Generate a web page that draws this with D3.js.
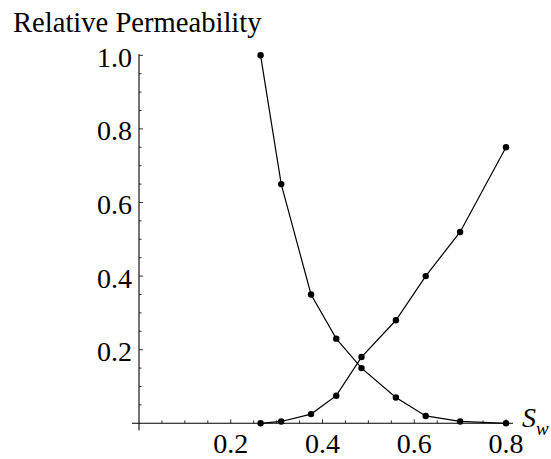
<!DOCTYPE html>
<html>
<head>
<meta charset="utf-8">
<script src="https://cdn.jsdelivr.net/npm/d3@7"></script>
<style>
  body { margin: 0; background: #fff; }
</style>
</head>
<body>
<svg id="chart"></svg>
<script>
// Data
const sw = [0.265, 0.31, 0.375, 0.43, 0.485, 0.56, 0.625, 0.7, 0.8];
const krw = [0, 0.005, 0.025, 0.075, 0.18, 0.28, 0.4, 0.52, 0.75];
const kro = [1.0, 0.65, 0.35, 0.23, 0.15, 0.07, 0.02, 0.005, 0];
const xTicks = [0.2, 0.4, 0.6, 0.8];
const yTicks = [0.2, 0.4, 0.6, 0.8, 1.0];

// Chart dimensions
const width = 551;
const height = 459;
const serif = "'Liberation Serif', 'Times New Roman', Times, 'DejaVu Serif', serif";

const svg = d3.select("#chart")
  .attr("width", width)
  .attr("height", height)
  .attr("font-family", serif)
  .style("font-family", serif);

// Scales
const xScale = d3.scaleLinear().domain([0, 0.8]).range([139, 506]);
const yScale = d3.scaleLinear().domain([0, 1]).range([423.3, 55.3]);

// Minor ticks every 0.05
const xMinor = d3.range(0.05, 0.801, 0.05).filter((v) => !xTicks.some((t) => Math.abs(t - v) < 1e-6));
const yMinor = d3.range(0.05, 1.001, 0.05).filter((v) => !yTicks.some((t) => Math.abs(t - v) < 1e-6));

// Axis lines
svg.append("line")
  .attr("x1", xScale(0) - 7).attr("x2", xScale(0.8) + 7)
  .attr("y1", yScale(0)).attr("y2", yScale(0))
  .attr("stroke", "#000").attr("stroke-width", 1.1);
svg.append("line")
  .attr("x1", xScale(0)).attr("x2", xScale(0))
  .attr("y1", yScale(0) + 7).attr("y2", yScale(1) - 1)
  .attr("stroke", "#000").attr("stroke-width", 1.1);

// X ticks (drawn upward)
svg.append("g").selectAll("line")
  .data(xTicks.concat(xMinor))
  .enter().append("line")
  .attr("x1", (d) => xScale(d)).attr("x2", (d) => xScale(d))
  .attr("y1", yScale(0))
  .attr("y2", (d) => yScale(0) - (xTicks.includes(d) ? 4 : 3))
  .attr("stroke", "#000").attr("stroke-width", 0.8);

svg.append("g").selectAll("text")
  .data(xTicks)
  .enter().append("text")
  .attr("x", (d) => xScale(d))
  .attr("y", yScale(0) + 30)
  .attr("text-anchor", "middle")
  .attr("font-size", 28)
  .text((d) => d3.format(".1f")(d));

// Y ticks (drawn to the right)
svg.append("g").selectAll("line")
  .data(yTicks.concat(yMinor))
  .enter().append("line")
  .attr("x1", xScale(0))
  .attr("x2", (d) => xScale(0) + (yTicks.includes(d) ? 4 : 2.5))
  .attr("y1", (d) => yScale(d)).attr("y2", (d) => yScale(d))
  .attr("stroke", "#000").attr("stroke-width", 0.8);

svg.append("g").selectAll("text")
  .data(yTicks)
  .enter().append("text")
  .attr("x", xScale(0) - 7)
  .attr("y", (d) => yScale(d) + 11.5)
  .attr("text-anchor", "end")
  .attr("font-size", 28)
  .text((d) => d3.format(".1f")(d));

// Axis titles
svg.append("text")
  .attr("x", 13).attr("y", 31.7)
  .attr("font-size", 28.6)
  .text("Relative Permeability");

const swLabel = svg.append("text")
  .attr("x", xScale(0.8) + 16).attr("y", yScale(0) + 3.5)
  .attr("font-size", 28)
  .attr("font-style", "italic");
swLabel.append("tspan").text("S");
swLabel.append("tspan").attr("font-size", 19).attr("dy", 8).text("w");

// Curves
const line = d3.line().x((d) => xScale(d[0])).y((d) => yScale(d[1]));
const series = [d3.zip(sw, krw), d3.zip(sw, kro)];

series.forEach((pts) => {
  svg.append("path")
    .datum(pts)
    .attr("d", line)
    .attr("fill", "none")
    .attr("stroke", "#000")
    .attr("stroke-width", 1.2);

  svg.append("g").selectAll("circle")
    .data(pts)
    .enter().append("circle")
    .attr("cx", (d) => xScale(d[0]))
    .attr("cy", (d) => yScale(d[1]))
    .attr("r", 3.2)
    .attr("fill", "#000");
});
</script>
</body>
</html>
